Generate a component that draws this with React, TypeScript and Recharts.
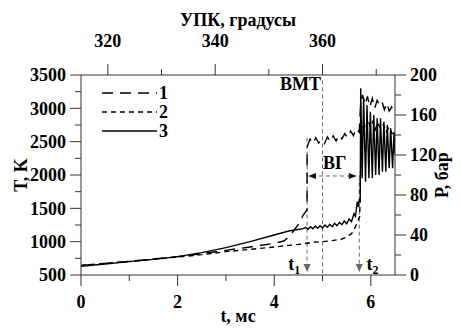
import React from 'react';
import {
  ComposedChart,
  Line,
  XAxis,
  YAxis,
  ReferenceLine,
  ReferenceDot,
  Legend,
} from 'recharts';

const W = 461;
const H = 329;
const FONT = "'Liberation Serif', 'Times New Roman', serif";
const AXIS = '#333';
const MARK = '#666';

// curve 1, long dashes
const c1Time = [0, 0.5, 1, 1.5, 2, 2.5, 3, 3.5, 4, 4.2, 4.3, 4.4, 4.5, 4.6, 4.68, 4.68, 4.74, 4.8, 4.86, 4.92, 4.98, 5.04, 5.1, 5.16, 5.22, 5.28, 5.34, 5.4, 5.46, 5.52, 5.58, 5.64, 5.7, 5.76, 5.79, 5.83, 5.88, 5.93, 5.98, 6.03, 6.08, 6.13, 6.18, 6.23, 6.28, 6.33, 6.38, 6.43, 6.5];
const c1Temp = [645, 675, 705, 740, 775, 820, 870, 920, 975, 1010, 1070, 1160, 1260, 1400, 1480, 2420, 2540, 2470, 2560, 2480, 2530, 2470, 2570, 2500, 2590, 2510, 2600, 2540, 2620, 2560, 2660, 2590, 2700, 2640, 3080, 3200, 3050, 3180, 3020, 3150, 3000, 3120, 3050, 3100, 2980, 3080, 2960, 3020, 2920];

// curve 2, short dashes
const c2Time = [0, 0.5, 1, 1.5, 2, 2.5, 3, 3.5, 4, 4.5, 4.8, 5.0, 5.2, 5.4, 5.5, 5.6, 5.66, 5.72, 5.77, 5.8, 5.84, 5.89, 5.94, 5.99, 6.04, 6.09, 6.14, 6.2, 6.26, 6.32, 6.38, 6.44, 6.5];
const c2Temp = [645, 675, 705, 735, 770, 805, 850, 885, 920, 960, 990, 1000, 1015, 1040, 1070, 1120, 1190, 1290, 1380, 2620, 2790, 2700, 2830, 2720, 2800, 2680, 2780, 2700, 2760, 2650, 2720, 2620, 2660];

// curve 3, solid
const c3Time = [0, 0.5, 1, 1.5, 2, 2.5, 3, 3.5, 4, 4.3, 4.6, 4.65, 4.7, 4.75, 4.8, 4.85, 4.9, 4.95, 5.0, 5.05, 5.1, 5.15, 5.2, 5.25, 5.3, 5.35, 5.4, 5.45, 5.5, 5.55, 5.6, 5.65, 5.68, 5.72, 5.74, 5.76, 5.78, 5.79, 5.82, 5.85, 5.89, 5.92, 5.96, 5.99, 6.03, 6.06, 6.1, 6.13, 6.17, 6.2, 6.24, 6.27, 6.31, 6.34, 6.38, 6.41, 6.45, 6.48, 6.5];
const c3Temp = [630, 665, 700, 735, 775, 835, 910, 1000, 1100, 1160, 1195, 1215, 1185, 1225, 1195, 1235, 1200, 1240, 1205, 1250, 1215, 1260, 1225, 1275, 1240, 1290, 1255, 1310, 1270, 1340, 1300, 1420, 1380, 1600, 1520, 1640, 1600, 3300, 1950, 3150, 1900, 3050, 1950, 2950, 1950, 2900, 2000, 2850, 2000, 2850, 2050, 2800, 2050, 2750, 2100, 2700, 2100, 2650, 2300];

const tTicks = [0, 1, 2, 3, 4, 5, 6];
const tLabels = [0, 2, 4, 6];
const degRange = [315, 373.5];
const degTicks = [320, 330, 340, 350, 360, 370];
const degLabels = [320, 340, 360];
const tempTicks = [500, 750, 1000, 1250, 1500, 1750, 2000, 2250, 2500, 2750, 3000, 3250, 3500];
const tempLabels = [500, 1000, 1500, 2000, 2500, 3000, 3500];
const pTicks = [0, 20, 40, 60, 80, 100, 120, 140, 160, 180, 200];
const pLabels = [0, 40, 80, 120, 160, 200];

const legendItems = [
  { name: '1', dash: '11 7' },
  { name: '2', dash: '5 4' },
  { name: '3', dash: undefined },
];

// event times
const tFirst = 4.68;
const tSecond = 5.76;
const tdc = 5;

const toPoints = (ts: number[], vs: number[]) => ts.map((t, i) => ({ t, v: vs[i] }));
const curve1 = toPoints(c1Time, c1Temp);
const curve2 = toPoints(c2Time, c2Temp);
const curve3 = toPoints(c3Time, c3Temp);
// invisible anchor so the crank-angle axis gets its ticks
const degAnchor = degRange.map((deg) => ({ deg, v: 500 }));

const textStyle = { fontFamily: FONT, fontWeight: 700, fontSize: 18, fill: '#000' };

const makeTick = (side: 'left' | 'right' | 'top' | 'bottom', labels: number[]) => (props: any) => {
  const { x, y, payload } = props;
  const v = payload.value;
  const major = labels.includes(v);
  const len = major ? 11 : 6;
  if (side === 'left') {
    return (
      <g>
        <line x1={x} y1={y} x2={x - len} y2={y} stroke={AXIS} />
        {major && <text x={x - 15} y={y} dy="0.35em" textAnchor="end" {...textStyle}>{v}</text>}
      </g>
    );
  }
  if (side === 'right') {
    return (
      <g>
        <line x1={x} y1={y} x2={x + len} y2={y} stroke={AXIS} />
        {major && <text x={x + 15} y={y} dy="0.35em" textAnchor="start" {...textStyle}>{v}</text>}
      </g>
    );
  }
  if (side === 'top') {
    return (
      <g>
        <line x1={x} y1={y} x2={x} y2={y - len} stroke={AXIS} />
        {major && <text x={x} y={y - 28} textAnchor="middle" {...textStyle}>{v}</text>}
      </g>
    );
  }
  return (
    <g>
      <line x1={x} y1={y} x2={x} y2={y + len} stroke={AXIS} />
      {major && <text x={x} y={y + 33} textAnchor="middle" {...textStyle}>{v}</text>}
    </g>
  );
};

const AxisTitle = ({ viewBox, side, value }: any) => {
  if (!viewBox) return null;
  const { x, y, width, height } = viewBox;
  if (side === 'left' || side === 'right') {
    const cx = side === 'left' ? x + 21 : x + 47;
    const cy = y + height / 2;
    return (
      <text x={cx} y={cy} dy="0.35em" textAnchor="middle" transform={`rotate(-90 ${cx} ${cy})`} {...textStyle}>
        {value}
      </text>
    );
  }
  const ty = side === 'top' ? y + 26 : y + 47;
  return (
    <text x={x + width / 2} y={ty} textAnchor="middle" {...textStyle}>
      {value}
    </text>
  );
};

const downArrow = (p: any) => (
  <path d={`M${p.cx - 3.5},${p.cy - 8} L${p.cx + 3.5},${p.cy - 8} L${p.cx},${p.cy} Z`} fill={MARK} />
);
const leftArrow = (p: any) => (
  <path d={`M${p.cx},${p.cy} L${p.cx + 8},${p.cy - 3} L${p.cx + 8},${p.cy + 3} Z`} fill="#111" />
);
const rightArrow = (p: any) => (
  <path d={`M${p.cx},${p.cy} L${p.cx - 8},${p.cy - 3} L${p.cx - 8},${p.cy + 3} Z`} fill="#111" />
);
const note = (label: string, anchor: 'start' | 'end', sub?: string) => (p: any) => (
  <text x={p.cx} y={p.cy} textAnchor={anchor} {...textStyle}>
    {label}
    {sub && <tspan dy={4} fontSize={12}>{sub}</tspan>}
  </text>
);

const renderLegend = () => (
  <svg width={80} height={60}>
    {legendItems.map((item, i) => (
      <g key={item.name}>
        <line x1={6} x2={61} y1={11 + i * 19} y2={11 + i * 19} stroke="#000" strokeWidth={1.5} strokeDasharray={item.dash} />
        <text x={63} y={11 + i * 19} dy="0.35em" {...textStyle}>{item.name}</text>
      </g>
    ))}
  </svg>
);

export default function App() {
  return (
    <div style={{ position: 'absolute', left: 0, top: 0, width: W, height: H, background: '#fff' }}>
      <ComposedChart width={W} height={H} margin={{ top: 0, right: 0, bottom: 0, left: 0 }}>
        <XAxis
          xAxisId="t"
          dataKey="t"
          type="number"
          domain={[0, 6.5]}
          allowDataOverflow
          ticks={tTicks}
          interval={0}
          height={54}
          stroke={AXIS}
          tickLine={false}
          tickSize={0}
          tickMargin={0}
          tick={makeTick('bottom', tLabels)}
          label={<AxisTitle side="bottom" value="t, мс" />}
        />
        <XAxis
          xAxisId="deg"
          dataKey="deg"
          orientation="top"
          type="number"
          domain={degRange}
          allowDataOverflow
          ticks={degTicks}
          interval={0}
          height={75}
          stroke={AXIS}
          tickLine={false}
          tickSize={0}
          tickMargin={0}
          tick={makeTick('top', degLabels)}
          label={<AxisTitle side="top" value="УПК, градусы" />}
        />
        <YAxis
          yAxisId="T"
          type="number"
          domain={[500, 3500]}
          allowDataOverflow
          ticks={tempTicks}
          interval={0}
          width={81}
          stroke={AXIS}
          tickLine={false}
          tickSize={0}
          tickMargin={0}
          tick={makeTick('left', tempLabels)}
          label={<AxisTitle side="left" value="T, K" />}
        />
        <YAxis
          yAxisId="P"
          orientation="right"
          type="number"
          domain={[0, 200]}
          allowDataOverflow
          ticks={pTicks}
          interval={0}
          width={66}
          stroke={AXIS}
          tickLine={false}
          tickSize={0}
          tickMargin={0}
          tick={makeTick('right', pLabels)}
          label={<AxisTitle side="right" value="Р, бар" />}
        />

        <Line data={degAnchor} dataKey="v" xAxisId="deg" yAxisId="T" stroke="none" dot={false} activeDot={false} legendType="none" isAnimationActive={false} />

        <ReferenceLine xAxisId="t" yAxisId="T" segment={[{ x: tdc, y: 3420 }, { x: tdc, y: 500 }]} stroke={MARK} strokeDasharray="4 3" />
        <ReferenceLine xAxisId="t" yAxisId="T" segment={[{ x: tFirst, y: 2560 }, { x: tFirst, y: 600 }]} stroke={MARK} strokeDasharray="4 3" />
        <ReferenceLine xAxisId="t" yAxisId="T" segment={[{ x: tSecond, y: 1990 }, { x: tSecond, y: 600 }]} stroke={MARK} strokeDasharray="4 3" />
        <ReferenceLine xAxisId="t" yAxisId="T" segment={[{ x: tFirst + 0.1, y: 1985 }, { x: tSecond - 0.1, y: 1985 }]} stroke={MARK} strokeDasharray="4 3" />

        <Line data={curve2} dataKey="v" xAxisId="t" yAxisId="T" type="linear" stroke="#000" strokeWidth={1.4} strokeDasharray="5 4" dot={false} activeDot={false} isAnimationActive={false} />
        <Line data={curve1} dataKey="v" xAxisId="t" yAxisId="T" type="linear" stroke="#000" strokeWidth={1.4} strokeDasharray="11 7" dot={false} activeDot={false} isAnimationActive={false} />
        <Line data={curve3} dataKey="v" xAxisId="t" yAxisId="T" type="linear" stroke="#000" strokeWidth={1.4} dot={false} activeDot={false} isAnimationActive={false} />

        <ReferenceDot xAxisId="t" yAxisId="T" x={tFirst} y={545} shape={downArrow} />
        <ReferenceDot xAxisId="t" yAxisId="T" x={tSecond} y={545} shape={downArrow} />
        <ReferenceDot xAxisId="t" yAxisId="T" x={tFirst + 0.02} y={1985} shape={leftArrow} />
        <ReferenceDot xAxisId="t" yAxisId="T" x={tSecond - 0.05} y={1985} shape={rightArrow} />
        <ReferenceDot xAxisId="t" yAxisId="T" x={4.97} y={3275} shape={note('ВМТ', 'end')} />
        <ReferenceDot xAxisId="t" yAxisId="T" x={5.01} y={2090} shape={note('ВГ', 'start')} />
        <ReferenceDot xAxisId="t" yAxisId="T" x={4.29} y={575} shape={note('t', 'start', '1')} />
        <ReferenceDot xAxisId="t" yAxisId="T" x={5.91} y={575} shape={note('t', 'start', '2')} />

        <Legend
          layout="vertical"
          align="center"
          verticalAlign="middle"
          wrapperStyle={{ left: 96, top: 82, width: 80, height: 60 }}
          content={renderLegend}
        />
      </ComposedChart>
    </div>
  );
}
